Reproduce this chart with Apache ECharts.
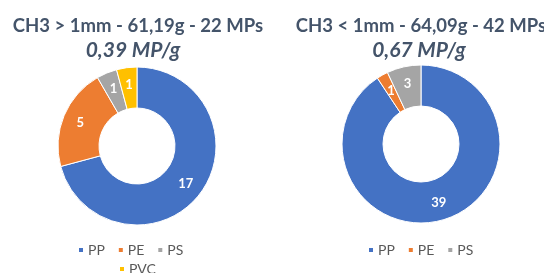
<!DOCTYPE html>
<html>
<head>
<meta charset="utf-8">
<script src="https://cdn.jsdelivr.net/npm/echarts@6/dist/echarts.min.js"></script>
<style>
  html, body { margin: 0; padding: 0; background: #fff; }
  #chart { width: 544px; height: 273px; }
</style>
</head>
<body>
<div id="chart"></div>
<script>
// données
const categories = ['PP', 'PE', 'PS', 'PVC'];
const colors = ['#4472C4', '#ED7D31', '#A5A5A5', '#FFC000'];
const bigValues = [17, 5, 1, 1];      // CH3 > 1mm
const smallValues = [39, 1, 3];       // CH3 < 1mm
const titles = ['CH3 > 1mm - 61,19g - 22 MPs', 'CH3 < 1mm - 64,09g - 42 MPs'];
const subtitles = ['0,39 MP/g', '0,67 MP/g'];

const font = 'Lato, "Open Sans", sans-serif';
const titleColor = '#44546A';

function toData(values) {
  return values.map((v, i) => ({
    name: categories[i],
    value: v,
    itemStyle: { color: colors[i] }
  }));
}

const chart = echarts.init(document.getElementById('chart'));

const legendBase = {
  orient: 'horizontal',
  icon: 'rect',
  itemWidth: 6,
  itemHeight: 6,
  itemGap: 12,
  textStyle: { color: '#595959', fontSize: 14, fontFamily: font, padding: [0, 0, 0, -1] }
};

const titleStyle = { color: titleColor, fontSize: 18.5, fontWeight: 'bold', fontFamily: font };
const subStyle = { color: titleColor, fontSize: 21, fontWeight: 'bold', fontStyle: 'italic', fontFamily: font };

chart.setOption({
  animation: false,
  title: [
    { text: titles[0], left: 133, top: 12, textAlign: 'center', textStyle: titleStyle },
    { text: titles[1], left: 416, top: 12, textAlign: 'center', textStyle: titleStyle },
    { text: subtitles[0], left: 128, top: 35, textAlign: 'center', textStyle: subStyle },
    { text: subtitles[1], left: 414, top: 35, textAlign: 'center', textStyle: subStyle }
  ],
  legend: [
    Object.assign({}, legendBase, { data: ['PP', 'PE', 'PS'], left: 72, top: 238 }),
    Object.assign({}, legendBase, { data: ['PVC'], left: 113, top: 257 }),
    Object.assign({}, legendBase, { data: ['PP', 'PE', 'PS'], left: 362, top: 238 })
  ],
  series: [
    {
      name: 'gauche',
      type: 'pie',
      center: [137, 146],
      radius: [38, 79],
      startAngle: 90,
      clockwise: true,
      label: {
        show: true, position: 'inside', formatter: '{c}',
        color: '#fff', fontSize: 13, fontWeight: 'bold', fontFamily: font
      },
      labelLine: { show: false },
      itemStyle: { borderColor: '#fff', borderWidth: 1 },
      data: toData(bigValues)
    },
    {
      name: 'droite',
      type: 'pie',
      center: [421, 144],
      radius: [38, 79],
      startAngle: 90,
      clockwise: true,
      label: {
        show: true, position: 'inside', formatter: '{c}',
        color: '#fff', fontSize: 13, fontWeight: 'bold', fontFamily: font
      },
      labelLine: { show: false },
      itemStyle: { borderColor: '#fff', borderWidth: 1 },
      data: toData(smallValues)
    }
  ]
});

window.onresize = function () {
  chart.resize();
};
</script>
</body>
</html>
